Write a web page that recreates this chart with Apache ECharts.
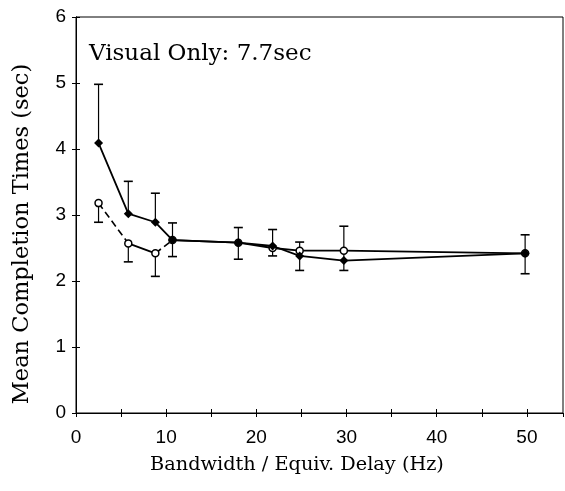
<!DOCTYPE html>
<html>
<head>
<meta charset="utf-8">
<script src="https://cdn.jsdelivr.net/npm/echarts@6/dist/echarts.min.js"></script>
<style>
html,body{margin:0;padding:0;background:#fff;}
#c{width:565px;height:491px;}
</style>
</head>
<body>
<div id="c"></div>
<script>
// ---- data ----
var solidX = [2.5, 5.8, 8.8, 10.7, 18, 21.8, 24.8, 29.7, 49.8];
var solidY = [4.09, 3.02, 2.89, 2.62, 2.58, 2.53, 2.38, 2.31, 2.42];
var openX  = [2.5, 5.8, 8.8, 10.7, 18, 21.8, 24.8, 29.7, 49.8];
var openY  = [3.18, 2.57, 2.42, 2.62, 2.58, 2.50, 2.46, 2.46, 2.42];
// error bars (x, low, high)
var errX    = [2.5, 2.5, 5.8, 5.8, 8.8, 8.8, 10.7, 18, 21.8, 24.8, 29.7, 49.8];
var errLow  = [4.09, 2.89, 3.02, 2.29, 2.89, 2.07, 2.37, 2.33, 2.38, 2.16, 2.16, 2.11];
var errHigh = [4.98, 3.18, 3.51, 2.57, 3.33, 2.42, 2.88, 2.81, 2.78, 2.59, 2.83, 2.70];
var xTicks = [0, 10, 20, 30, 40, 50];
var yTicks = [0, 1, 2, 3, 4, 5, 6];
var titleText = 'Visual Only: 7.7sec';
var xName = 'Bandwidth / Equiv. Delay (Hz)';
var yName = 'Mean Completion Times (sec)';

// line style per segment of the open series (dashed pieces as in the scan)
var openSegDashed = [true, false, true, false, false, false, false, false];

function zip(a, b) { return a.map(function (v, i) { return [v, b[i]]; }); }
function isPointValue(x, y) {
  for (var i = 0; i < solidX.length; i++) {
    if (solidX[i] === x && Math.abs(solidY[i] - y) < 1e-9) return true;
    if (openX[i] === x && Math.abs(openY[i] - y) < 1e-9) return true;
  }
  return false;
}
function segData(dashed) {
  var out = [];
  for (var i = 0; i < openX.length - 1; i++) {
    if (openSegDashed[i] === dashed) {
      out.push([openX[i], openY[i]], [openX[i + 1], openY[i + 1]], [openX[i + 1], '-']);
    }
  }
  return out;
}
var errData = errX.map(function (x, i) { return [x, errLow[i], errHigh[i]]; });

var chart = echarts.init(document.getElementById('c'), null, {renderer: 'canvas'});
var sans = 'Liberation Sans';
var tickFmt = function (v) { return xTicks.indexOf(v) >= 0 ? String(v) : ''; };

chart.setOption({
  backgroundColor: '#fff',
  animation: false,
  grid: {left: 76, right: 2, top: 17, bottom: 78, show: true, borderColor: '#000', borderWidth: 1},
  graphic: [{
    type: 'text', left: 89, top: 43,
    style: {text: titleText, font: '23px "DejaVu Serif"', fill: '#000'}
  }, {
    type: 'text', x: 297, y: 465,
    style: {text: xName, font: '19.3px "DejaVu Serif"', fill: '#000', align: 'center', verticalAlign: 'middle'}
  }, {
    type: 'text', x: 22, y: 234, rotation: Math.PI / 2,
    style: {text: yName, font: '22.5px "DejaVu Serif"', fill: '#000', align: 'center', verticalAlign: 'middle'}
  }],
  xAxis: [{
    type: 'value', min: 0, max: 54, interval: 5,
    axisLine: {show: true, onZero: false, lineStyle: {color: '#000', width: 1}},
    axisTick: {show: true, inside: true, length: 4, lineStyle: {color: '#000'}},
    axisLabel: {formatter: tickFmt, showMaxLabel: false, fontFamily: sans, fontSize: 19, color: '#000', margin: 15},
    splitLine: {show: false}
  }, {
    type: 'value', position: 'top', min: 0, max: 54, interval: 5,
    axisLine: {show: true, lineStyle: {color: '#000'}},
    axisTick: {show: true, inside: true, length: 4, lineStyle: {color: '#000'}},
    axisLabel: {show: false}, splitLine: {show: false}
  }],
  yAxis: [{
    type: 'value', min: 0, max: 6, interval: 1,
    axisLine: {show: true, onZero: false, lineStyle: {color: '#000', width: 1}},
    axisTick: {show: true, inside: true, length: 4, lineStyle: {color: '#000'}},
    axisLabel: {fontFamily: sans, fontSize: 19, color: '#000', margin: 10},
    splitLine: {show: false}
  }, {
    type: 'value', position: 'right', min: 0, max: 6, interval: 1,
    axisLine: {show: true, lineStyle: {color: '#000'}},
    axisTick: {show: true, inside: true, length: 4, lineStyle: {color: '#000'}},
    axisLabel: {show: false}, splitLine: {show: false}
  }],
  series: [{
    type: 'custom', name: 'err', z: 1,
    renderItem: function (params, api) {
      var x = api.value(0), lo = api.value(1), hi = api.value(2);
      var pLo = api.coord([x, lo]), pHi = api.coord([x, hi]);
      var cw = 4.5;
      var ch = [{type: 'line', shape: {x1: pLo[0], y1: pLo[1], x2: pHi[0], y2: pHi[1]}, style: {stroke: '#000', lineWidth: 1.2}}];
      if (!isPointValue(x, lo)) ch.push({type: 'line', shape: {x1: pLo[0] - cw, y1: pLo[1], x2: pLo[0] + cw, y2: pLo[1]}, style: {stroke: '#000', lineWidth: 1.6}});
      if (!isPointValue(x, hi)) ch.push({type: 'line', shape: {x1: pHi[0] - cw, y1: pHi[1], x2: pHi[0] + cw, y2: pHi[1]}, style: {stroke: '#000', lineWidth: 1.6}});
      return {type: 'group', children: ch};
    },
    data: errData
  }, {
    type: 'line', name: 'open-dashed', z: 2, symbol: 'none', connectNulls: false,
    data: segData(true),
    lineStyle: {color: '#000', width: 1.6, type: [7, 4]}
  }, {
    type: 'line', name: 'open-solid', z: 2, symbol: 'none', connectNulls: false,
    data: segData(false),
    lineStyle: {color: '#000', width: 1.8}
  }, {
    type: 'scatter', name: 'open', z: 3,
    data: zip(openX, openY),
    symbol: 'circle', symbolSize: 7,
    itemStyle: {color: '#fff', borderColor: '#000', borderWidth: 1.5, opacity: 1}
  }, {
    type: 'line', name: 'solid', z: 4,
    data: zip(solidX, solidY),
    symbol: 'diamond', symbolSize: 9,
    itemStyle: {color: '#000'},
    lineStyle: {color: '#000', width: 1.8}
  }]
});
</script>
</body>
</html>
